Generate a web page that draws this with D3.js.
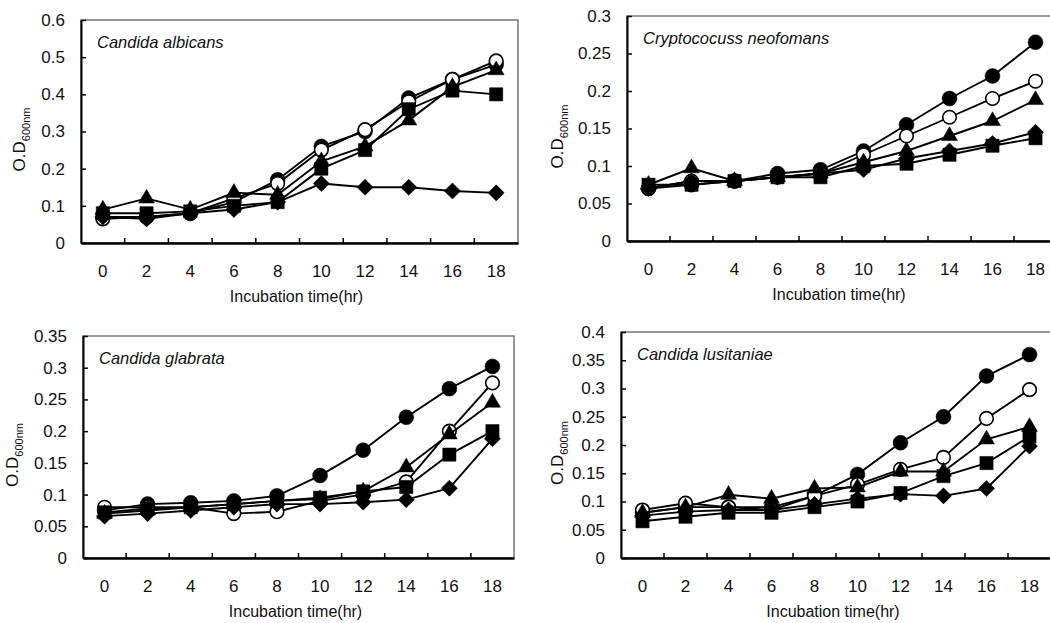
<!DOCTYPE html>
<meta charset="utf-8">
<style>
body {
  margin: 0;
  background: #fff;
}

.tick text, .label {
  fill: #111;
  font-family: "Liberation Sans", Arial, sans-serif;
}

.frame {
  fill: none;
  stroke: #777;
  stroke-width: 1.5;
}

.axis path, .axis line {
  stroke: #000;
}

.series {
  fill: none;
  stroke: #000;
  stroke-width: 1.9;
}
</style>
<body>
  <div id="chart"></div>
</body>
<script src="https://cdn.jsdelivr.net/npm/d3@7"></script>
<script>

var width = 1050,
    height = 623;

// incubation time (hr)
var hours = [0, 2, 4, 6, 8, 10, 12, 14, 16, 18];

// marker order used in every panel
var markers = ["filledCircle", "openCircle", "triangle", "square", "diamond"];

// Candida albicans
var albicansFilledCircle = [0.07, 0.07, 0.08, 0.11, 0.17, 0.26, 0.30, 0.39, 0.44, 0.48];
var albicansOpenCircle   = [0.065, 0.07, 0.08, 0.12, 0.16, 0.25, 0.305, 0.38, 0.44, 0.49];
var albicansTriangle     = [0.09, 0.12, 0.09, 0.135, 0.13, 0.22, 0.26, 0.33, 0.42, 0.465];
var albicansSquare       = [0.08, 0.08, 0.085, 0.10, 0.11, 0.20, 0.25, 0.36, 0.41, 0.40];
var albicansDiamond      = [0.07, 0.065, 0.08, 0.09, 0.11, 0.16, 0.15, 0.15, 0.14, 0.135];

// Cryptococuss neofomans
var neofomansFilledCircle = [0.07, 0.075, 0.08, 0.09, 0.095, 0.12, 0.155, 0.19, 0.22, 0.265];
var neofomansOpenCircle   = [0.07, 0.08, 0.08, 0.085, 0.09, 0.115, 0.14, 0.165, 0.19, 0.213];
var neofomansTriangle     = [0.075, 0.097, 0.08, 0.085, 0.09, 0.105, 0.12, 0.14, 0.16, 0.188];
var neofomansSquare       = [0.075, 0.075, 0.08, 0.085, 0.085, 0.10, 0.103, 0.115, 0.127, 0.137];
var neofomansDiamond      = [0.07, 0.08, 0.08, 0.085, 0.09, 0.095, 0.11, 0.12, 0.13, 0.145];

// Candida glabrata
var glabrataFilledCircle = [0.075, 0.085, 0.087, 0.09, 0.098, 0.13, 0.17, 0.222, 0.267, 0.302];
var glabrataOpenCircle   = [0.08, 0.08, 0.08, 0.07, 0.073, 0.09, 0.10, 0.12, 0.20, 0.276];
var glabrataTriangle     = [0.07, 0.075, 0.08, 0.085, 0.09, 0.093, 0.105, 0.143, 0.195, 0.245];
var glabrataSquare       = [0.072, 0.078, 0.08, 0.085, 0.09, 0.095, 0.105, 0.112, 0.163, 0.20];
var glabrataDiamond      = [0.066, 0.07, 0.075, 0.08, 0.085, 0.085, 0.088, 0.092, 0.11, 0.188];

// Candida lusitaniae
var lusitaniaeFilledCircle = [0.08, 0.09, 0.09, 0.09, 0.11, 0.148, 0.204, 0.25, 0.322, 0.36];
var lusitaniaeOpenCircle   = [0.085, 0.097, 0.09, 0.085, 0.11, 0.13, 0.157, 0.178, 0.247, 0.298];
var lusitaniaeTriangle     = [0.08, 0.09, 0.112, 0.105, 0.123, 0.125, 0.153, 0.153, 0.21, 0.232];
var lusitaniaeSquare       = [0.065, 0.073, 0.08, 0.08, 0.09, 0.10, 0.115, 0.145, 0.168, 0.215];
var lusitaniaeDiamond      = [0.075, 0.082, 0.085, 0.085, 0.095, 0.105, 0.113, 0.11, 0.123, 0.198];

var titles = ["Candida albicans", "Cryptococuss neofomans", "Candida glabrata", "Candida lusitaniae"];
var yMaxes = [0.6, 0.3, 0.35, 0.4];
var ySteps = [0.1, 0.05, 0.05, 0.05];

var panelSeries = [
  [albicansFilledCircle, albicansOpenCircle, albicansTriangle, albicansSquare, albicansDiamond],
  [neofomansFilledCircle, neofomansOpenCircle, neofomansTriangle, neofomansSquare, neofomansDiamond],
  [glabrataFilledCircle, glabrataOpenCircle, glabrataTriangle, glabrataSquare, glabrataDiamond],
  [lusitaniaeFilledCircle, lusitaniaeOpenCircle, lusitaniaeTriangle, lusitaniaeSquare, lusitaniaeDiamond]
];

// plot boxes
var boxes = [
  {left: 81, right: 518, top: 20, bottom: 243, ytitle: 25},
  {left: 627, right: 1057, top: 16, bottom: 241, ytitle: 563},
  {left: 83, right: 514, top: 336, bottom: 558, ytitle: 18},
  {left: 621, right: 1051, top: 332, bottom: 558, ytitle: 563}
];

var diamond = {
  draw: function(ctx, size) {
    var r = Math.sqrt(size / 2);
    ctx.moveTo(0, -r);
    ctx.lineTo(r, 0);
    ctx.lineTo(0, r);
    ctx.lineTo(-r, 0);
    ctx.closePath();
  }
};

var symbols = {
  filledCircle: d3.symbol(d3.symbolCircle, 175),
  openCircle: d3.symbol(d3.symbolCircle, 145),
  triangle: d3.symbol(d3.symbolTriangle, 110),
  square: d3.symbol(d3.symbolSquare, 175),
  diamond: d3.symbol(diamond, 130)
};

var svg = d3.select("#chart").append("svg")
    .attr("width", width)
    .attr("height", height);

var fmt = function(d) { return String(+d.toFixed(2)); };

boxes.forEach(function(b, p) {
  var g = svg.append("g");

  var x = d3.scaleBand()
    .domain(hours)
    .range([b.left, b.right]);

  var y = d3.scaleLinear()
    .domain([0, yMaxes[p]])
    .range([b.bottom, b.top]);

  g.append("rect")
    .attr("class", "frame")
    .attr("x", b.left)
    .attr("y", b.top)
    .attr("width", b.right - b.left)
    .attr("height", b.bottom - b.top);

  var yAxis = d3.axisLeft(y)
    .tickValues(d3.range(0, yMaxes[p] + 1e-9, ySteps[p]))
    .tickFormat(fmt)
    .tickSizeInner(-5)
    .tickSizeOuter(0)
    .tickPadding(16);

  g.append("g")
    .attr("class", "axis")
    .attr("transform", "translate(" + b.left + ",0)")
    .call(yAxis)
    .call(function(s) {
      s.select(".domain").attr("stroke-width", 2);
      s.selectAll(".tick line").attr("stroke-width", 1.5);
      s.selectAll(".tick text").style("font-size", "17px");
    });

  var xAxis = d3.axisBottom(x)
    .tickSize(0)
    .tickPadding(22);

  g.append("g")
    .attr("class", "axis")
    .attr("transform", "translate(0," + b.bottom + ")")
    .call(xAxis)
    .call(function(s) {
      s.select(".domain").attr("stroke-width", 2.5);
      s.selectAll(".tick text").style("font-size", "17px");
    });

  // category boundary ticks, pointing inward
  g.append("g")
    .selectAll("line")
    .data(hours.slice(1))
    .enter().append("line")
    .attr("x1", function(d) { return x(d); })
    .attr("x2", function(d) { return x(d); })
    .attr("y1", b.bottom)
    .attr("y2", b.bottom - 5)
    .attr("stroke", "#000")
    .attr("stroke-width", 1.5);

  g.append("text")
    .attr("class", "label")
    .attr("x", (b.left + b.right) / 2 - 3)
    .attr("y", b.bottom + 59)
    .style("font-size", "16px")
    .style("text-anchor", "middle")
    .text("Incubation time(hr)");

  var yt = g.append("text")
    .attr("class", "label")
    .attr("transform", "translate(" + b.ytitle + "," + ((b.top + b.bottom) / 2 + 8) + ") rotate(-90)")
    .style("text-anchor", "middle")
    .style("font-size", "17px");
  yt.append("tspan").text("O.D");
  yt.append("tspan")
    .attr("dy", 5)
    .style("font-size", "11px")
    .text("600nm");

  g.append("text")
    .attr("class", "label")
    .attr("x", b.left + 16)
    .attr("y", b.top + 28)
    .style("font-size", "16.5px")
    .style("font-style", "italic")
    .text(titles[p]);

  var line = d3.line()
    .x(function(d, i) { return x(hours[i]) + x.bandwidth() / 2; })
    .y(function(d) { return y(d); });

  panelSeries[p].forEach(function(values, s) {
    var kind = markers[s];
    var sg = g.append("g");

    sg.append("path")
      .datum(values)
      .attr("class", "series")
      .attr("d", line);

    sg.selectAll("path.mark")
      .data(values)
      .enter().append("path")
      .attr("class", "mark")
      .attr("transform", function(d, i) {
        return "translate(" + (x(hours[i]) + x.bandwidth() / 2) + "," + y(d) + ")";
      })
      .attr("d", symbols[kind])
      .attr("fill", kind === "openCircle" ? "#fff" : "#000")
      .attr("stroke", "#000")
      .attr("stroke-width", kind === "openCircle" ? 1.6 : 0.5);
  });
});

</script>
</body>
</html>
